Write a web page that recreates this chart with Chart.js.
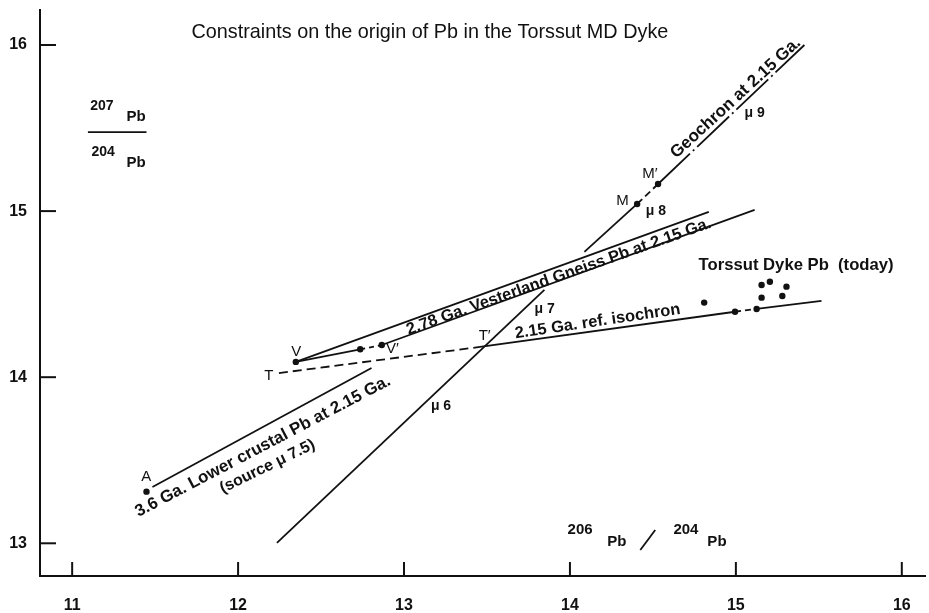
<!DOCTYPE html>
<html><head><meta charset="utf-8">
<script src="https://cdn.jsdelivr.net/npm/chart.js@4/dist/chart.umd.min.js"></script>
<style>html,body{margin:0;padding:0;background:#fff;} #wrap{width:929px;height:613px;}</style>
</head><body><div id="wrap"><canvas id="c" width="929" height="613"></canvas></div>
<script>
// ---- tick values ----
const xTicks = [11, 12, 13, 14, 15, 16];
const yTicks = [13, 14, 15, 16];

// ---- Geochron at 2.15 Ga (206Pb/204Pb, 207Pb/204Pb) ----
const geochronLower = [[12.234, 13.002], [13.846, 14.526]];
const geochronMid   = [[14.087, 14.754], [14.405, 15.043]];
const geochronMM    = [[14.405, 15.043], [14.531, 15.163]];
const geochronTop   = [[14.531, 15.163], [15.413, 16.000]];

// ---- 2.15 Ga reference isochron ----
const isochronDashA  = [[12.246, 14.025], [13.458, 14.182]];
const isochronSolidA = [[13.458, 14.182], [14.995, 14.394]];
const isochronDashB  = [[14.995, 14.394], [15.125, 14.411]];
const isochronSolidB = [[15.125, 14.411], [15.516, 14.459]];

// ---- 2.78 Ga Vesterland Gneiss Pb at 2.15 Ga (band) ----
const vesterlandUpper = [[12.348, 14.092], [14.837, 14.995]];
const vesterlandLower = [[12.866, 14.194], [15.113, 15.007]];
const vSolid = [[12.348, 14.092], [12.736, 14.168]];
const vDash  = [[12.736, 14.168], [12.866, 14.194]];

// ---- 3.6 Ga Lower crustal Pb at 2.15 Ga ----
const lowerCrust = [[11.484, 13.339], [12.804, 14.055]];

// ---- points ----
const modelPoints = [[11.448, 13.311], [12.348, 14.092], [12.736, 14.168], [12.866, 14.194], [14.405, 15.043], [14.531, 15.163]];
const torssutPb = [[14.809, 14.449], [14.995, 14.394], [15.125, 14.411], [15.155, 14.479], [15.280, 14.489], [15.155, 14.555], [15.205, 14.575], [15.305, 14.545]];

const INK = '#111';
const FONT = '"Liberation Sans", Arial, Helvetica, sans-serif';
const pts = a => a.map(([x, y]) => ({x, y}));

function lineDs(arr, dash) {
  return {type: 'scatter', data: pts(arr), showLine: true, borderColor: INK, borderWidth: 1.8,
          borderDash: dash || [], pointRadius: 0, fill: false};
}
function pointDs(arr) {
  return {type: 'scatter', data: pts(arr), showLine: false, pointRadius: 3.2,
          pointBackgroundColor: INK, pointBorderColor: INK, pointBorderWidth: 0};
}

// text annotations (position in data units, angle in degrees, w = target width px)
const labels = [
  {t: 'Constraints on the origin of Pb in the Torssut MD Dyke', x: 13.156, y: 16.078, w: 477},
  {t: 'Geochron at 2.15 Ga.', x: 14.999, y: 15.681, a: -42.5, w: 170, b: true},
  {t: '2.78 Ga. Vesterland Gneiss Pb at 2.15 Ga.', x: 13.933, y: 14.605, a: -19.5, w: 322, b: true},
  {t: '2.15 Ga. ref. isochron', x: 14.167, y: 14.335, a: -8.5, w: 167, b: true},
  {t: '3.6 Ga. Lower crustal Pb at 2.15 Ga.', x: 12.149, y: 13.583, a: -27.7, w: 286, b: true},
  {t: '(source \u03BC 7.5)', x: 12.177, y: 13.462, a: -26, w: 104, b: true},
  {t: 'Torssut Dyke Pb  (today)', x: 15.363, y: 14.676, w: 195, b: true},
  {t: 'A', x: 11.446, y: 13.401, s: 15},
  {t: 'V', x: 12.351, y: 14.151, s: 15},
  {t: 'V\u2032', x: 12.930, y: 14.170, s: 15},
  {t: 'T', x: 12.186, y: 14.007, s: 15},
  {t: 'T\u2032', x: 13.486, y: 14.248, s: 15},
  {t: 'M', x: 14.316, y: 15.061, s: 15},
  {t: 'M\u2032', x: 14.482, y: 15.223, s: 15},
  {t: '\u03BC 6', x: 13.223, y: 13.827, s: 14, b: true},
  {t: '\u03BC 7', x: 13.848, y: 14.411, s: 14, b: true},
  {t: '\u03BC 8', x: 14.518, y: 15.001, s: 14, b: true},
  {t: '\u03BC 9', x: 15.113, y: 15.591, s: 14, b: true},
  // y-axis title (fraction)
  {t: '207', x: 11.179, y: 15.633, s: 14, b: true},
  {t: 'Pb', x: 11.385, y: 15.567, s: 15, b: true},
  {t: '204', x: 11.187, y: 15.353, s: 14, b: true},
  {t: 'Pb', x: 11.385, y: 15.290, s: 15, b: true},
  // x-axis title
  {t: '206', x: 14.061, y: 13.080, s: 15, b: true},
  {t: 'Pb', x: 14.283, y: 13.010, s: 15, b: true},
  {t: '204', x: 14.699, y: 13.080, s: 15, b: true},
  {t: 'Pb', x: 14.886, y: 13.010, s: 15, b: true}
];
const strokes = [
  [[11.095, 15.476], [11.448, 15.476]],   // fraction bar
  [[14.424, 12.960], [14.514, 13.080]]    // slash
];

const decor = {
  id: 'decor',
  afterDatasetsDraw(chart) {
    const {ctx, chartArea, scales: {x, y}} = chart;
    ctx.save();
    ctx.strokeStyle = INK; ctx.fillStyle = INK; ctx.lineWidth = 2;
    // inward tick marks
    xTicks.forEach(v => { const p = x.getPixelForValue(v);
      ctx.beginPath(); ctx.moveTo(p, chartArea.bottom); ctx.lineTo(p, chartArea.bottom - 14); ctx.stroke(); });
    yTicks.forEach(v => { const p = y.getPixelForValue(v);
      ctx.beginPath(); ctx.moveTo(chartArea.left, p); ctx.lineTo(chartArea.left + 16, p); ctx.stroke(); });
    ctx.lineWidth = 1.8;
    strokes.forEach(s => { ctx.beginPath();
      ctx.moveTo(x.getPixelForValue(s[0][0]), y.getPixelForValue(s[0][1]));
      ctx.lineTo(x.getPixelForValue(s[1][0]), y.getPixelForValue(s[1][1])); ctx.stroke(); });
    ctx.textAlign = 'center'; ctx.textBaseline = 'middle';
    labels.forEach(L => {
      ctx.save();
      ctx.translate(x.getPixelForValue(L.x), y.getPixelForValue(L.y));
      if (L.a) ctx.rotate(L.a * Math.PI / 180);
      const wt = L.b ? 'bold ' : '';
      let size = L.s || 15;
      ctx.font = wt + size + 'px ' + FONT;
      if (L.w) { const m = ctx.measureText(L.t).width; size = size * L.w / m; ctx.font = wt + size.toFixed(2) + 'px ' + FONT; }
      ctx.fillText(L.t, 0, 0);
      ctx.restore();
    });
    ctx.restore();
  }
};

const bg = {id: 'bg', beforeDraw(c) { const g = c.ctx; g.save(); g.fillStyle = '#fff'; g.fillRect(0, 0, c.width, c.height); g.restore(); }};

new Chart(document.getElementById('c'), {
  type: 'scatter',
  data: {datasets: [
    lineDs(geochronLower), lineDs(geochronMid), lineDs(geochronMM, [7, 4]), lineDs(geochronTop, [44, 4, 2, 4]),
    lineDs(isochronDashA, [9, 5]), lineDs(isochronSolidA), lineDs(isochronDashB, [6, 4]), lineDs(isochronSolidB),
    lineDs(vesterlandUpper), lineDs(vesterlandLower), lineDs(vSolid), lineDs(vDash, [5, 4]),
    lineDs(lowerCrust),
    pointDs(modelPoints), pointDs(torssutPb)
  ]},
  options: {
    responsive: false, animation: false, devicePixelRatio: 1,
    layout: {padding: {top: 10, right: 0, left: 0, bottom: 0}},
    plugins: {legend: {display: false}, tooltip: {enabled: false}},
    scales: {
      x: {type: 'linear', min: 10.8062, max: 16.1398,
          afterBuildTicks: s => { s.ticks = xTicks.map(v => ({value: v})); },
          afterFit: s => { s.height = 37; s.paddingLeft = 0; s.paddingRight = 0; },
          grid: {display: false, drawTicks: false},
          border: {display: true, color: INK, width: 2},
          ticks: {color: INK, font: {family: FONT, size: 16, weight: 'bold'}, padding: 20, maxRotation: 0, autoSkip: false}},
      y: {type: 'linear', min: 12.8031, max: 16.2107,
          afterBuildTicks: s => { s.ticks = yTicks.map(v => ({value: v})); },
          afterFit: s => { s.width = 40; s.paddingTop = 0; s.paddingBottom = 0; },
          grid: {display: false, drawTicks: false},
          border: {display: true, color: INK, width: 2},
          ticks: {color: INK, font: {family: FONT, size: 16, weight: 'bold'}, padding: 13, autoSkip: false}}
    }
  },
  plugins: [bg, decor]
});
</script></body></html>
